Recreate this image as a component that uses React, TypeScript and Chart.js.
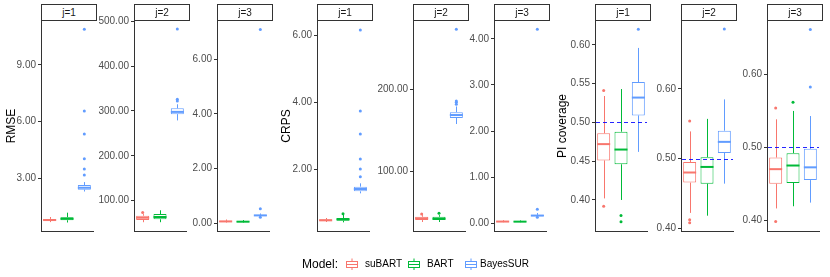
import React, { useEffect, useRef } from 'react';
import { Chart, registerables } from 'chart.js';
Chart.register(...registerables);

// ---------------- data ----------------
const models = ['suBART', 'BART', 'BayesSUR'];
const modelColors = ['#F8766D', '#00BA38', '#619CFF'];
const stripLabels = ['j=1', 'j=2', 'j=3'];
const metricTitles = ['RMSE', 'CRPS', 'PI coverage'];
const legendTitle = 'Model:';
const coverageTarget = 0.5;

// boxes: [lower whisker, Q1, median, Q3, upper whisker] per model
const rmseJ1Boxes = [[0.68, 0.74, 0.79, 0.85, 0.95], [0.66, 0.78, 0.86, 0.94, 1.18], [2.3, 2.4, 2.5, 2.64, 2.8]];
const rmseJ1Outliers = [[], [], [10.89, 6.56, 5.34, 4.04, 3.49, 3.17]];
const rmseJ1Ticks = [3, 6, 9];
const rmseJ1Range = [0.21, 11.38];

const rmseJ2Boxes = [[52, 57, 62, 66.5, 70], [52, 58.5, 63.6, 70.3, 78.6], [279, 293, 298, 306, 315]];
const rmseJ2Outliers = [[73.5], [], [482.6, 326, 322.5]];
const rmseJ2Ticks = [100, 200, 300, 400, 500];
const rmseJ2Range = [32.4, 502.9];

const rmseJ3Boxes = [[0.03, 0.05, 0.07, 0.09, 0.14], [0.03, 0.05, 0.06, 0.08, 0.12], [0.25, 0.27, 0.29, 0.31, 0.36]];
const rmseJ3Outliers = [[], [], [7.08, 0.53, 0.22]];
const rmseJ3Ticks = [0, 2, 4, 6];
const rmseJ3Range = [-0.28, 7.43];

const crpsJ1Boxes = [[0.41, 0.44, 0.46, 0.49, 0.53], [0.4, 0.45, 0.49, 0.53, 0.62], [1.27, 1.33, 1.4, 1.47, 1.57]];
const crpsJ1Outliers = [[], [0.66], [6.17, 3.74, 3.05, 2.3, 2.0, 1.77]];
const crpsJ1Ticks = [2, 4, 6];
const crpsJ1Range = [0.14, 6.47];

const crpsJ2Boxes = [[37.6, 40, 42, 44, 46], [37.6, 40, 41.6, 44, 46], [157.5, 165, 168.5, 172, 179]];
const crpsJ2Outliers = [[47.5], [48.2], [273.4, 185.7, 184.1, 181.6]];
const crpsJ2Ticks = [100, 200];
const crpsJ2Range = [26.6, 284.8];

const crpsJ3Boxes = [[0.02, 0.03, 0.035, 0.045, 0.065], [0.02, 0.028, 0.033, 0.042, 0.06], [0.14, 0.15, 0.165, 0.18, 0.22]];
const crpsJ3Outliers = [[], [], [4.21, 0.3, 0.13]];
const crpsJ3Ticks = [0, 1, 2, 3, 4];
const crpsJ3Range = [-0.17, 4.41];

const piJ1Boxes = [[0.402, 0.451, 0.472, 0.486, 0.534], [0.4, 0.446, 0.465, 0.488, 0.543], [0.462, 0.509, 0.532, 0.552, 0.596]];
const piJ1Outliers = [[0.541, 0.392], [0.38, 0.372], [0.62]];
const piJ1Ticks = [0.4, 0.45, 0.5, 0.55, 0.6];
const piJ1Range = [0.36, 0.632];

const piJ2Boxes = [[0.422, 0.4655, 0.48, 0.495, 0.539], [0.418, 0.464, 0.488, 0.502, 0.557], [0.464, 0.508, 0.524, 0.54, 0.585]];
const piJ2Outliers = [[0.554, 0.412, 0.408], [], [0.686]];
const piJ2Ticks = [0.4, 0.5, 0.6];
const piJ2Range = [0.396, 0.699];

const piJ3Boxes = [[0.416, 0.45, 0.47, 0.486, 0.5385], [0.419, 0.451, 0.475, 0.492, 0.55], [0.424, 0.455, 0.4725, 0.498, 0.543]];
const piJ3Outliers = [[0.554, 0.398], [0.562], [0.583, 0.662]];
const piJ3Ticks = [0.4, 0.5, 0.6];
const piJ3Range = [0.385, 0.675];

// ---------------- layout ----------------
const FONT = '"Liberation Sans", Arial, Helvetica, sans-serif';
const panelLefts = [41, 134, 217, 317, 413, 494, 595, 681, 767];
const PANEL_W = 56;
const PANEL_TOP = 20;
const PANEL_BOTTOM = 231;
const YW = 40;
const PT = 10;
const XH = 8;
const titleCenters = [11, 286, 561.5];

type FacetDef = {
  strip: string;
  boxes: number[][];
  outliers: number[][];
  ticks: number[];
  range: number[];
  refLine: number | null;
};

const facets: FacetDef[] = [
  { strip: stripLabels[0], boxes: rmseJ1Boxes, outliers: rmseJ1Outliers, ticks: rmseJ1Ticks, range: rmseJ1Range, refLine: null },
  { strip: stripLabels[1], boxes: rmseJ2Boxes, outliers: rmseJ2Outliers, ticks: rmseJ2Ticks, range: rmseJ2Range, refLine: null },
  { strip: stripLabels[2], boxes: rmseJ3Boxes, outliers: rmseJ3Outliers, ticks: rmseJ3Ticks, range: rmseJ3Range, refLine: null },
  { strip: stripLabels[0], boxes: crpsJ1Boxes, outliers: crpsJ1Outliers, ticks: crpsJ1Ticks, range: crpsJ1Range, refLine: null },
  { strip: stripLabels[1], boxes: crpsJ2Boxes, outliers: crpsJ2Outliers, ticks: crpsJ2Ticks, range: crpsJ2Range, refLine: null },
  { strip: stripLabels[2], boxes: crpsJ3Boxes, outliers: crpsJ3Outliers, ticks: crpsJ3Ticks, range: crpsJ3Range, refLine: null },
  { strip: stripLabels[0], boxes: piJ1Boxes, outliers: piJ1Outliers, ticks: piJ1Ticks, range: piJ1Range, refLine: coverageTarget },
  { strip: stripLabels[1], boxes: piJ2Boxes, outliers: piJ2Outliers, ticks: piJ2Ticks, range: piJ2Range, refLine: coverageTarget },
  { strip: stripLabels[2], boxes: piJ3Boxes, outliers: piJ3Outliers, ticks: piJ3Ticks, range: piJ3Range, refLine: coverageTarget },
];

function Facet({ f, left }: { f: FacetDef; left: number }) {
  const ref = useRef<HTMLCanvasElement>(null);
  const W = YW + PANEL_W;
  const H = PT + (PANEL_BOTTOM - PANEL_TOP) + XH;

  useEffect(() => {
    const boxParts = {
      id: 'boxParts',
      beforeDatasetsDraw(chart: any) {
        const meta = chart.getDatasetMeta(0);
        const y = chart.scales.y;
        const ctx = chart.ctx;
        ctx.save();
        f.boxes.forEach((b, i) => {
          const el = meta.data[i];
          const x = Math.round(el.x) + 0.5;
          ctx.strokeStyle = modelColors[i];
          ctx.lineWidth = 1;
          ctx.beginPath();
          ctx.moveTo(x, y.getPixelForValue(b[0]));
          ctx.lineTo(x, y.getPixelForValue(b[1]));
          ctx.moveTo(x, y.getPixelForValue(b[3]));
          ctx.lineTo(x, y.getPixelForValue(b[4]));
          ctx.stroke();
        });
        ctx.restore();
      },
      afterDatasetsDraw(chart: any) {
        const meta = chart.getDatasetMeta(0);
        const y = chart.scales.y;
        const ctx = chart.ctx;
        ctx.save();
        f.boxes.forEach((b, i) => {
          const el = meta.data[i];
          const half = el.width / 2;
          const ym = y.getPixelForValue(b[2]);
          ctx.strokeStyle = modelColors[i];
          ctx.lineWidth = 2;
          ctx.beginPath();
          ctx.moveTo(el.x - half, ym);
          ctx.lineTo(el.x + half, ym);
          ctx.stroke();
        });
        ctx.restore();
        if (f.refLine !== null) {
          const yr = Math.round(y.getPixelForValue(f.refLine)) + 0.5;
          const area = chart.chartArea;
          ctx.save();
          ctx.strokeStyle = '#0000FF';
          ctx.globalAlpha = 0.85;
          ctx.lineWidth = 1;
          ctx.setLineDash([4, 3]);
          ctx.beginPath();
          ctx.moveTo(area.left + 1, yr);
          ctx.lineTo(area.right, yr);
          ctx.stroke();
          ctx.restore();
        }
      },
    };

    const datasets: any[] = [
      {
        type: 'bar',
        data: f.boxes.map((b) => [b[1], b[3]]),
        backgroundColor: '#FFFFFF',
        borderColor: modelColors,
        borderWidth: 1,
        borderSkipped: false,
        barPercentage: 0.75,
        categoryPercentage: 1,
        grouped: false,
        order: 2,
      },
      ...f.outliers.map((vals, i) => ({
        type: 'scatter',
        data: vals.map((v) => ({ x: models[i], y: v })),
        backgroundColor: modelColors[i],
        borderColor: modelColors[i],
        pointRadius: 1.5,
        pointBorderWidth: 0,
        order: 1,
      })),
    ];

    const chart = new Chart(ref.current as HTMLCanvasElement, {
      type: 'bar',
      data: { labels: models, datasets },
      options: {
        animation: false,
        responsive: false,
        maintainAspectRatio: false,
        devicePixelRatio: 1,
        events: [],
        layout: { padding: { top: PT, left: 0, right: 0, bottom: 0 } },
        plugins: { legend: { display: false }, tooltip: { enabled: false }, title: { display: false } },
        scales: {
          x: {
            type: 'category',
            offset: true,
            ticks: { display: false },
            grid: { display: false, drawTicks: false },
            border: { display: true, color: '#333333', width: 1 },
            afterFit: (s: any) => {
              s.height = XH;
            },
          },
          y: {
            type: 'linear',
            min: f.range[0],
            max: f.range[1],
            afterBuildTicks: (s: any) => {
              s.ticks = f.ticks.map((v) => ({ value: v }));
            },
            afterFit: (s: any) => {
              s.width = YW;
            },
            ticks: {
              callback: (v: any) => Number(v).toFixed(2),
              color: '#4D4D4D',
              font: { family: FONT, size: 10 },
              padding: 2,
            },
            grid: { drawOnChartArea: false, drawTicks: true, tickLength: 3, color: '#333333', lineWidth: 1 },
            border: { display: true, color: '#333333', width: 1 },
          },
        },
      } as any,
      plugins: [boxParts],
    } as any);
    return () => chart.destroy();
  }, []);

  return (
    <canvas
      ref={ref}
      width={W}
      height={H}
      style={{ position: 'absolute', left: left - YW, top: PANEL_TOP - PT, width: W, height: H }}
    />
  );
}

function LegendKey({ color, left }: { color: string; left: number }) {
  return (
    <svg width={12} height={13} style={{ position: 'absolute', left, top: 258 }}>
      <line x1={6} y1={0.5} x2={6} y2={12} stroke={color} strokeWidth={1} />
      <rect x={0.5} y={3.5} width={11} height={6} fill="#FFFFFF" stroke={color} strokeWidth={1} />
      <line x1={0.5} y1={6.5} x2={11.5} y2={6.5} stroke={color} strokeWidth={1} />
    </svg>
  );
}

export default function App() {
  const legendKeyLefts = [346, 408, 465];
  const legendTextLefts = [365, 427, 480];
  return (
    <div
      style={{
        position: 'fixed',
        left: 0,
        top: 0,
        width: 830,
        height: 277,
        background: '#FFFFFF',
        fontFamily: FONT,
        overflow: 'hidden',
      }}
    >
      {facets.map((f, i) => (
        <Facet key={i} f={f} left={panelLefts[i]} />
      ))}
      {facets.map((f, i) => (
        <div
          key={'s' + i}
          style={{
            position: 'absolute',
            left: panelLefts[i],
            top: 4,
            width: PANEL_W,
            height: 17,
            boxSizing: 'border-box',
            border: '1px solid #333333',
            background: '#FFFFFF',
            color: '#1A1A1A',
            fontSize: 10,
            lineHeight: '15px',
            textAlign: 'center',
          }}
        >
          {f.strip}
        </div>
      ))}
      {metricTitles.map((t, i) => (
        <div
          key={'t' + i}
          style={{
            position: 'absolute',
            left: titleCenters[i],
            top: (PANEL_TOP + PANEL_BOTTOM) / 2,
            transform: 'translate(-50%, -50%) rotate(-90deg)',
            whiteSpace: 'nowrap',
            fontSize: 12,
            lineHeight: '14px',
            color: '#000000',
          }}
        >
          {t}
        </div>
      ))}
      <div
        style={{
          position: 'absolute',
          left: 302,
          top: 256,
          fontSize: 12,
          lineHeight: '16px',
          color: '#000000',
          whiteSpace: 'nowrap',
        }}
      >
        {legendTitle}
      </div>
      {models.map((m, i) => (
        <React.Fragment key={'l' + i}>
          <LegendKey color={modelColors[i]} left={legendKeyLefts[i]} />
          <div
            style={{
              position: 'absolute',
              left: legendTextLefts[i],
              top: 257,
              fontSize: 10,
              lineHeight: '14px',
              color: '#000000',
              whiteSpace: 'nowrap',
            }}
          >
            {m}
          </div>
        </React.Fragment>
      ))}
    </div>
  );
}
